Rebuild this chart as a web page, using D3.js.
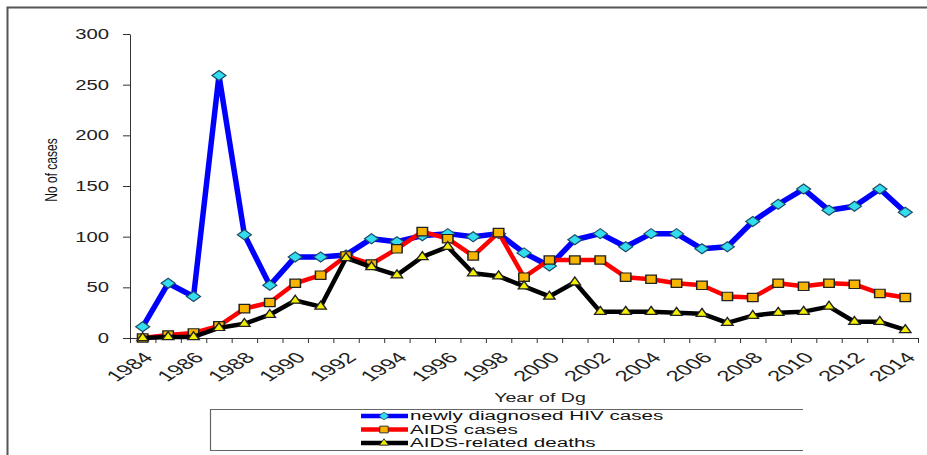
<!DOCTYPE html>
<html>
<head>
<meta charset="utf-8">
<script src="https://cdn.jsdelivr.net/npm/d3@7"></script>
<style>
  body { margin: 0; background: #fff; }
  svg { display: block; font-family: "Liberation Sans", Arial, sans-serif; }
</style>
</head>
<body>
<div id="chart"></div>
<script>
// data
const years = d3.range(1984, 2015);
const hivCases = [11, 54, 41, 259, 102, 52, 80, 80, 82, 98, 95, 101, 103, 100, 103, 84, 71, 97, 103, 90, 103, 103, 88, 90, 115, 132, 147, 126, 130, 147, 124];
const aidsCases = [0, 3, 5, 12, 29, 35, 54, 62, 81, 73, 88, 105, 98, 81, 104, 60, 77, 77, 77, 60, 58, 54, 52, 41, 40, 54, 51, 54, 53, 44, 40];
const aidsDeaths = [0, 1, 1, 10, 14, 23, 37, 31, 79, 70, 62, 80, 90, 64, 61, 51, 41, 55, 26, 26, 26, 25, 24, 15, 22, 25, 26, 31, 16, 16, 8];
const yTicks = [0, 50, 100, 150, 200, 250, 300];
const labelYears = years.filter((y) => y % 2 === 0);
const seriesNames = ["newly diagnosed HIV cases", "AIDS cases", "AIDS-related deaths"];

const W = 927, H = 455;
const stretch = 1.45; // the source picture is stretched sideways

const diamond = "M0,-5L7,0L0,5L-7,0Z";
const series = [
  { name: seriesNames[0], values: hivCases, line: "#0000ff", width: 5.5,
    shape: diamond, fill: "#33dcee", stroke: "#1d4a66", sym: null },
  { name: seriesNames[1], values: aidsCases, line: "#ff0000", width: 4.5,
    shape: d3.symbol(d3.symbolSquare, 70)(), fill: "#f7b500", stroke: "#222", sym: 1.25 },
  { name: seriesNames[2], values: aidsDeaths, line: "#000000", width: 4.5,
    shape: d3.symbol(d3.symbolTriangle, 36)(), fill: "#f2ee00", stroke: "#222", sym: 1.25 },
];

const svg = d3.select("#chart").append("svg").attr("width", W).attr("height", H);

// outer frame (left and top only)
svg.append("path")
  .attr("d", `M7.5,${H}V7.5H${W}`)
  .attr("fill", "none")
  .attr("stroke", "#555")
  .attr("stroke-width", 2);

const x = d3.scaleLinear().domain([1983.5, 2014.5]).range([130, 918]);
const y = d3.scaleLinear().domain([0, 300]).range([338, 34]);

// y axis
const yAxis = svg.append("g")
  .attr("transform", "translate(130,0)")
  .call(d3.axisLeft(y).tickValues(yTicks).tickSize(7).tickSizeOuter(0));
yAxis.selectAll("path, line").attr("stroke", "#333");
yAxis.selectAll("text")
  .attr("x", -21 / stretch)
  .attr("transform", `scale(${stretch},1)`)
  .style("font-size", "14px")
  .attr("fill", "#222");

// x axis: tick marks between the years
const xAxis = svg.append("g")
  .attr("transform", "translate(0,338)")
  .call(d3.axisBottom(x).tickValues(d3.range(1983.5, 2015, 1)).tickSize(5).tickSizeOuter(0).tickFormat(""));
xAxis.selectAll("path, line").attr("stroke", "#333");

// x labels every other year, slanted
const xLabels = svg.append("g")
  .attr("transform", "translate(0,338)")
  .call(d3.axisBottom(x).tickValues(labelYears).tickSize(0).tickFormat(d3.format("d")));
xLabels.select(".domain").remove();
xLabels.selectAll("text")
  .attr("x", 0)
  .attr("y", 0)
  .attr("dy", "0.35em")
  .attr("text-anchor", "end")
  .attr("transform", "translate(5,17) scale(1.6,1) rotate(-45)")
  .style("font-size", "15px")
  .attr("fill", "#222");

// axis titles
svg.append("text")
  .attr("transform", `translate(57,170) scale(1.4,1) rotate(-90)`)
  .attr("text-anchor", "middle")
  .style("font-size", "12px")
  .attr("fill", "#111")
  .text("No of cases");

svg.append("text")
  .attr("transform", `translate(540,402) scale(${stretch},1)`)
  .attr("text-anchor", "middle")
  .style("font-size", "13.5px")
  .attr("fill", "#222")
  .text("Year of Dg");

// series
const line = d3.line().x((d) => x(d.year)).y((d) => y(d.value));

series.forEach((s) => {
  const pts = years.map((yr, i) => ({ year: yr, value: s.values[i] }));
  const g = svg.append("g").attr("class", "series");
  g.append("path")
    .datum(pts)
    .attr("d", line)
    .attr("fill", "none")
    .attr("stroke", s.line)
    .attr("stroke-width", s.width)
    .attr("stroke-linejoin", "round");
  g.selectAll(".marker")
    .data(pts)
    .enter()
    .append("path")
    .attr("class", "marker")
    .attr("d", s.shape)
    .attr("transform", (d) => `translate(${x(d.year)},${y(d.value)})` + (s.sym ? ` scale(${s.sym},1)` : ""))
    .attr("fill", s.fill)
    .attr("stroke", s.stroke)
    .attr("stroke-width", 1.2);
});

// legend
const legend = svg.append("g").attr("class", "legend");
legend.append("path")
  .attr("d", "M803,409.5H210.5V450.5H803")
  .attr("fill", "none")
  .attr("stroke", "#666")
  .attr("stroke-width", 1.2);

const rowY = [416, 429.5, 443];
const items = legend.selectAll(".item")
  .data(series)
  .enter()
  .append("g")
  .attr("class", "item")
  .attr("transform", (d, i) => `translate(0,${rowY[i]})`);

items.append("line")
  .attr("x1", 361).attr("x2", 408)
  .attr("stroke", (d) => d.line)
  .attr("stroke-width", 4.5);

items.append("path")
  .attr("d", (d) => d.shape)
  .attr("transform", (d) => `translate(384,0) scale(${d.sym ? 0.8 * d.sym : 0.7},0.8)`)
  .attr("fill", (d) => d.fill)
  .attr("stroke", (d) => d.stroke)
  .attr("stroke-width", 1);

items.append("text")
  .attr("transform", `translate(410,0) scale(1.65,1)`)
  .attr("dy", "0.34em")
  .style("font-size", "12.5px")
  .attr("fill", "#111")
  .text((d) => d.name);
</script>
</body>
</html>
